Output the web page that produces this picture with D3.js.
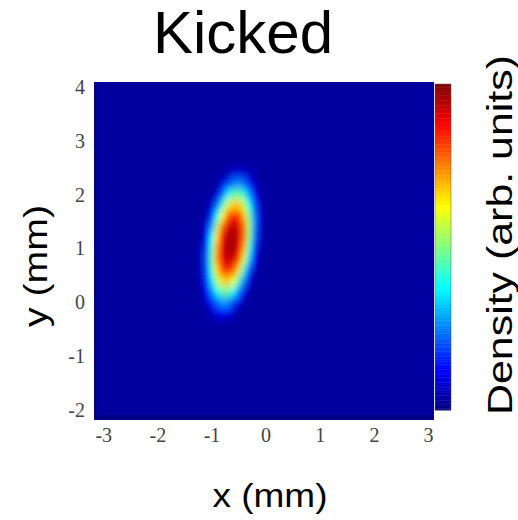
<!DOCTYPE html>
<html>
<head>
<meta charset="utf-8">
<script src="https://cdn.jsdelivr.net/npm/d3@7"></script>
<style>
  html, body { margin: 0; padding: 0; background: #fff; }
  svg { display: block; }
</style>
</head>
<body>
<svg id="chart" width="518" height="520"></svg>
<script>
// ---- data ----
const title = "Kicked";
const xLabel = "x (mm)";
const yLabel = "y (mm)";
const cbLabel = "Density (arb. units)";
const xTicks = [-3, -2, -1, 0, 1, 2, 3];
const yTicks = [-2, -1, 0, 1, 2, 3, 4];
const xDomain = [-3.17, 3.11];
const yDomain = [-2.19, 4.09];
const background = 0.03;
// density grid (cell centres, mm); cells are 0.1 mm wide and 0.2 mm tall
const gridX = [-1.3, -1.2, -1.1, -1.0, -0.9, -0.8, -0.7, -0.6, -0.5, -0.4, -0.3, -0.2, -0.1, 0.0, 0.1];
const gridY = [2.6, 2.4, 2.2, 2.0, 1.8, 1.6, 1.4, 1.2, 1.0, 0.8, 0.6, 0.4, 0.2, 0.0, -0.2];
const density = [
  [.03,.03,.03,.03,.03,.03,.03,.03,.03,.03,.03,.03,.03,.03,.03],
  [.03,.03,.03,.03,.03,.03,.05,.08,.09,.08,.06,.04,.03,.03,.03],
  [.03,.03,.03,.03,.04,.09,.17,.24,.26,.23,.15,.07,.03,.03,.03],
  [.03,.03,.03,.03,.09,.22,.36,.46,.47,.41,.27,.13,.05,.03,.03],
  [.03,.03,.03,.08,.22,.42,.59,.68,.67,.57,.39,.20,.07,.03,.03],
  [.03,.03,.05,.17,.38,.62,.78,.85,.83,.69,.48,.25,.08,.03,.03],
  [.03,.03,.09,.27,.54,.78,.91,.94,.90,.76,.52,.25,.08,.03,.03],
  [.03,.03,.14,.37,.66,.87,.95,.96,.92,.76,.50,.23,.07,.03,.03],
  [.03,.05,.19,.44,.72,.90,.96,.96,.89,.71,.43,.18,.05,.03,.03],
  [.03,.06,.21,.46,.73,.88,.94,.92,.81,.59,.32,.12,.03,.03,.03],
  [.03,.06,.20,.43,.66,.81,.85,.80,.66,.43,.20,.06,.03,.03,.03],
  [.03,.05,.17,.35,.54,.66,.68,.61,.46,.26,.10,.03,.03,.03,.03],
  [.03,.04,.12,.25,.38,.47,.47,.39,.26,.12,.04,.03,.03,.03,.03],
  [.03,.03,.07,.15,.22,.27,.26,.19,.11,.04,.03,.03,.03,.03,.03],
  [.03,.03,.03,.07,.10,.12,.11,.07,.03,.03,.03,.03,.03,.03,.03]
];
const cellW = 0.1, cellH = 0.2;

// ---- layout ----
const plot = { left: 94, right: 434, top: 82, bottom: 420 };
const cb = { left: 435, right: 451, top: 84, bottom: 410 };

const svg = d3.select("#chart");
const x = d3.scaleLinear().domain(xDomain).range([plot.left, plot.right]);
const y = d3.scaleLinear().domain(yDomain).range([plot.bottom, plot.top]);

// jet colormap
function jet(t) {
  const c = v => Math.max(0, Math.min(1, v));
  const r = c(1.5 - Math.abs(4 * t - 3));
  const g = c(1.5 - Math.abs(4 * t - 2));
  const b = c(1.5 - Math.abs(4 * t - 1));
  return d3.rgb(r * 255, g * 255, b * 255).formatHex();
}
const color = d3.scaleSequential(jet).domain([0, 1]);

const defs = svg.append("defs");
defs.append("clipPath").attr("id", "plotClip")
  .append("rect")
  .attr("x", plot.left).attr("y", plot.top)
  .attr("width", plot.right - plot.left).attr("height", plot.bottom - plot.top);
const blur = defs.append("filter").attr("id", "smooth")
  .attr("x", "-20%").attr("y", "-20%").attr("width", "140%").attr("height", "140%");
blur.append("feGaussianBlur").attr("stdDeviation", "2.6 4.2");

const plotG = svg.append("g").attr("clip-path", "url(#plotClip)");
plotG.append("rect")
  .attr("x", plot.left).attr("y", plot.top)
  .attr("width", plot.right - plot.left).attr("height", plot.bottom - plot.top)
  .attr("fill", color(background));

const cells = [];
density.forEach((row, i) => row.forEach((v, j) => cells.push({ gx: gridX[j], gy: gridY[i], v })));
plotG.append("g").attr("filter", "url(#smooth)")
  .selectAll("rect").data(cells).join("rect")
  .attr("x", d => x(d.gx - cellW / 2))
  .attr("y", d => y(d.gy + cellH / 2))
  .attr("width", d => x(d.gx + cellW / 2) - x(d.gx - cellW / 2) + 0.5)
  .attr("height", d => y(d.gy - cellH / 2) - y(d.gy + cellH / 2) + 0.5)
  .attr("fill", d => color(Math.max(background, d.v)));

// darker edge strips as in the scan
plotG.append("rect").attr("x", plot.left).attr("y", plot.top).attr("width", 3)
  .attr("height", plot.bottom - plot.top).attr("fill", "#000080").attr("opacity", 0.7);
plotG.append("rect").attr("x", plot.left).attr("y", plot.bottom - 5).attr("width", plot.right - plot.left)
  .attr("height", 5).attr("fill", "#000080").attr("opacity", 0.7);

// ---- axes (ticks as labels only) ----
const fmt = d => String(d); // plain hyphen-minus as in the reference
const xAxis = d3.axisBottom(x).tickValues(xTicks).tickSize(0).tickPadding(0).tickFormat(fmt);
const gx = svg.append("g").attr("transform", `translate(0,${plot.bottom})`).call(xAxis);
gx.select(".domain").remove();
gx.selectAll("text")
  .attr("y", 22).attr("dy", 0)
  .attr("font-family", "'Liberation Serif', 'Times New Roman', serif")
  .attr("font-size", 20).attr("fill", "#444");

const yAxis = d3.axisLeft(y).tickValues(yTicks).tickSize(0).tickPadding(0).tickFormat(fmt);
const gy = svg.append("g").attr("transform", `translate(${plot.left - 9},0)`).call(yAxis);
gy.select(".domain").remove();
gy.selectAll("text")
  .attr("x", 0).attr("dy", "0.33em")
  .attr("font-family", "'Liberation Serif', 'Times New Roman', serif")
  .attr("font-size", 20).attr("fill", "#444");

// ---- colorbar ----
const cbScale = d3.scaleLinear().domain([0, 1]).range([cb.bottom, cb.top]);
const cbSteps = d3.range(0, 1, 0.005);
svg.append("g").selectAll("rect").data(cbSteps).join("rect")
  .attr("x", cb.left)
  .attr("y", d => cbScale(d + 0.005))
  .attr("width", cb.right - cb.left)
  .attr("height", d => cbScale(d) - cbScale(d + 0.005) + 0.4)
  .attr("fill", d => color(d + 0.0025));
svg.append("rect")
  .attr("x", cb.left).attr("y", cb.top)
  .attr("width", cb.right - cb.left).attr("height", cb.bottom - cb.top)
  .attr("fill", "none").attr("stroke", "#555").attr("stroke-width", 0.8).attr("opacity", 0.6);

// ---- text ----
const sans = "'Liberation Sans', Arial, Helvetica, sans-serif";
svg.append("text").text(title)
  .attr("x", 243).attr("y", 53).attr("text-anchor", "middle")
  .attr("font-family", sans).attr("font-size", 60).attr("fill", "#000");

svg.append("text").text(xLabel)
  .attr("x", 270).attr("y", 507).attr("text-anchor", "middle")
  .attr("font-family", sans).attr("font-size", 34).attr("fill", "#000")
  .attr("textLength", 115).attr("lengthAdjust", "spacingAndGlyphs");

svg.append("text").text(yLabel)
  .attr("transform", "translate(47,266) rotate(-90)").attr("text-anchor", "middle")
  .attr("font-family", sans).attr("font-size", 34).attr("fill", "#000")
  .attr("textLength", 122).attr("lengthAdjust", "spacingAndGlyphs");

svg.append("text").text(cbLabel)
  .attr("transform", "translate(512,235) rotate(-90)").attr("text-anchor", "middle")
  .attr("font-family", sans).attr("font-size", 35).attr("fill", "#000")
  .attr("textLength", 360).attr("lengthAdjust", "spacingAndGlyphs");
</script>
</body>
</html>
